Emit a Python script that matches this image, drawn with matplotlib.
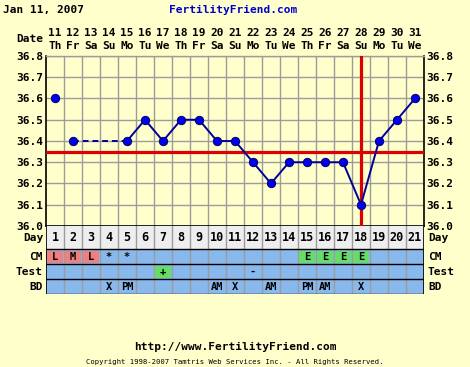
import matplotlib
matplotlib.use("Agg")
import matplotlib.pyplot as plt
import matplotlib.transforms as mtransforms
from matplotlib.patches import Rectangle
import numpy as np

# ---------------- data ----------------
dates = [11, 12, 13, 14, 15, 16, 17, 18, 19, 20, 21, 22, 23, 24, 25, 26, 27, 28, 29, 30, 31]
weekdays = ['Th', 'Fr', 'Sa', 'Su', 'Mo', 'Tu', 'We', 'Th', 'Fr', 'Sa', 'Su',
            'Mo', 'Tu', 'We', 'Th', 'Fr', 'Sa', 'Su', 'Mo', 'Tu', 'We']
cycle_days = list(range(1, 22))
temps = [36.6, 36.4, None, None, 36.4, 36.5, 36.4, 36.5, 36.5, 36.4, 36.4,
         36.3, 36.2, 36.3, 36.3, 36.3, 36.3, 36.1, 36.4, 36.5, 36.6]
coverline = 36.35
ovulation_day = 18
y_ticks = [36.0, 36.1, 36.2, 36.3, 36.4, 36.5, 36.6, 36.7, 36.8]
cm = ['L', 'M', 'L', '*', '*', '', '', '', '', '', '', '', '', '', 'E', 'E', 'E', 'E', '', '', '']
test = ['', '', '', '', '', '', '+', '', '', '', '', '-', '', '', '', '', '', '', '', '', '']
bd = ['', '', '', 'X', 'PM', '', '', '', '', 'AM', 'X', '', 'AM', '', 'PM', 'AM', '', 'X', '', '', '']
title_left = "Jan 11, 2007"
title_center = "FertilityFriend.com"
footer_url = "http://www.FertilityFriend.com"
footer_copy = "Copyright 1998-2007 Tamtris Web Services Inc. - All Rights Reserved."

# ---------------- style ----------------
W, H = 470, 367
BG = '#FFFFCC'
GRID = '#9C9C9C'
ROWBLUE = '#88B8EC'
DAYGRAY = '#EEEEEE'
SALMON = '#F08080'
GREEN = '#66DD66'
RED = '#DD0000'
FONT = 'DejaVu Sans Mono'

fig = plt.figure(figsize=(W / 100, H / 100), dpi=100, facecolor=BG)

def fx(px):
    return px / W

def fy(py):
    return 1 - py / H

L, R = 46, 424
TOP, BOT = 56, 226
TBOT = 294

ax = fig.add_axes([fx(L), fy(BOT), fx(R - L), (BOT - TOP) / H])
ax.set_facecolor(BG)
ax.set_xlim(0.5, 21.5)
ax.set_ylim(36.0, 36.8)

# grid
for x in np.arange(1.5, 21.5, 1):
    ax.axvline(x, color=GRID, lw=1.0, zorder=1)
for y in y_ticks[1:]:
    ax.axhline(y, color=GRID, lw=1.0, zorder=1)

for s in ['left', 'right', 'bottom']:
    ax.spines[s].set_color('black')
    ax.spines[s].set_linewidth(1.2)
ax.spines['top'].set_color(GRID)
ax.spines['top'].set_linewidth(1.0)

ax.set_xticks([])
ax.set_yticks(y_ticks)
ax.set_yticklabels([f"{v:.1f}" for v in y_ticks])
ax.tick_params(axis='y', length=0, pad=2, labelright=True, labelsize=8)
for lab in ax.get_yticklabels():
    lab.set_fontfamily(FONT)
    lab.set_fontweight('bold')

# red lines
ax.axhline(coverline, color=RED, lw=2.3, zorder=3)
ax.axvline(ovulation_day, color=RED, lw=2.3, zorder=3)

# temperature line
x = np.array(cycle_days, dtype=float)
t = np.array([np.nan if v is None else v for v in temps])
# solid run of consecutive recordings from day 5 onward
ax.plot(x[4:], t[4:], color='#000099', lw=1.4, zorder=4)
# dashed bridge over missing days
ax.plot([x[1], x[4]], [t[1], t[4]], color='#000099', lw=1.4, ls=(0, (3, 2)), zorder=4)
ax.plot(x, t, ls='none', marker='o', ms=6, mfc='#0000EE', mec='#000066', mew=0.7, zorder=5)

# date header
trans = mtransforms.blended_transform_factory(ax.transData, fig.transFigure)
for d, wd, xi in zip(dates, weekdays, cycle_days):
    ax.text(xi, fy(33), str(d), transform=trans, ha='center', va='center',
            fontsize=8, fontweight='bold', family=FONT)
    ax.text(xi, fy(46), wd, transform=trans, ha='center', va='center',
            fontsize=8, fontweight='bold', family=FONT)
fig.text(fx(43), fy(39), "Date", ha='right', va='center', fontsize=8,
         fontweight='bold', family=FONT)

# titles
fig.text(fx(3), fy(10), title_left, ha='left', va='center', fontsize=8,
         fontweight='bold', family=FONT)
fig.text(fx(233), fy(10), title_center, ha='center', va='center', fontsize=8,
         fontweight='bold', family=FONT, color='#0000CC')

# ---------------- table ----------------
tax = fig.add_axes([fx(L), fy(TBOT), fx(R - L), (TBOT - BOT) / H])
tax.set_xlim(0.5, 21.5)
tax.set_ylim(TBOT - BOT, 0)
tax.axis('off')

rows = [('Day', 0, 23), ('CM', 23, 38), ('Test', 38, 53), ('BD', 53, 68)]
tax.add_patch(Rectangle((0.5, 0), 21, 23, facecolor=DAYGRAY, edgecolor='none', zorder=0))
tax.add_patch(Rectangle((0.5, 23), 21, 45, facecolor=ROWBLUE, edgecolor='none', zorder=0))

for xi in np.arange(1.5, 21.5, 1):
    tax.plot([xi, xi], [0, 68], color=GRID, lw=1.0, zorder=1)
for _, y0, y1 in rows:
    tax.plot([0.5, 21.5], [y1, y1], color='black', lw=1.0, zorder=2)
tax.plot([0.5, 0.5], [0, 68], color='black', lw=1.2, zorder=2)
tax.plot([21.5, 21.5], [0, 68], color='black', lw=1.2, zorder=2)

def cell_fill(vals, y0, y1, colors):
    for xi, v in zip(cycle_days, vals):
        if v in colors:
            tax.add_patch(Rectangle((xi - 0.42, y0 + 2), 0.84, (y1 - y0) - 3.5,
                                    facecolor=colors[v], edgecolor='none', zorder=1.5))
        if v:
            tax.text(xi, (y0 + y1) / 2 + 0.5, v, ha='center', va='center', fontsize=7.5,
                     fontweight='bold', family=FONT, zorder=3)

for xi in cycle_days:
    tax.text(xi, 11.5, str(xi), ha='center', va='center', fontsize=8.5,
             fontweight='bold', family=FONT, zorder=3)
cell_fill(cm, 23, 38, {'L': SALMON, 'M': SALMON, 'E': GREEN})
cell_fill(test, 38, 53, {'+': GREEN})
cell_fill(bd, 53, 68, {})

for name, y0, y1 in rows:
    yc = BOT + (y0 + y1) / 2 + 0.5
    fig.text(fx(43), fy(yc), name, ha='right', va='center', fontsize=8,
             fontweight='bold', family=FONT)
    fig.text(fx(428), fy(yc), name, ha='left', va='center', fontsize=8,
             fontweight='bold', family=FONT)

# footer
fig.text(fx(235), fy(347), footer_url, ha='center', va='center', fontsize=8,
         fontweight='bold', family=FONT)
fig.text(fx(235), fy(362), footer_copy, ha='center', va='center', fontsize=5.2,
         family=FONT)

fig.savefig('out.png', dpi=100, facecolor=BG)
